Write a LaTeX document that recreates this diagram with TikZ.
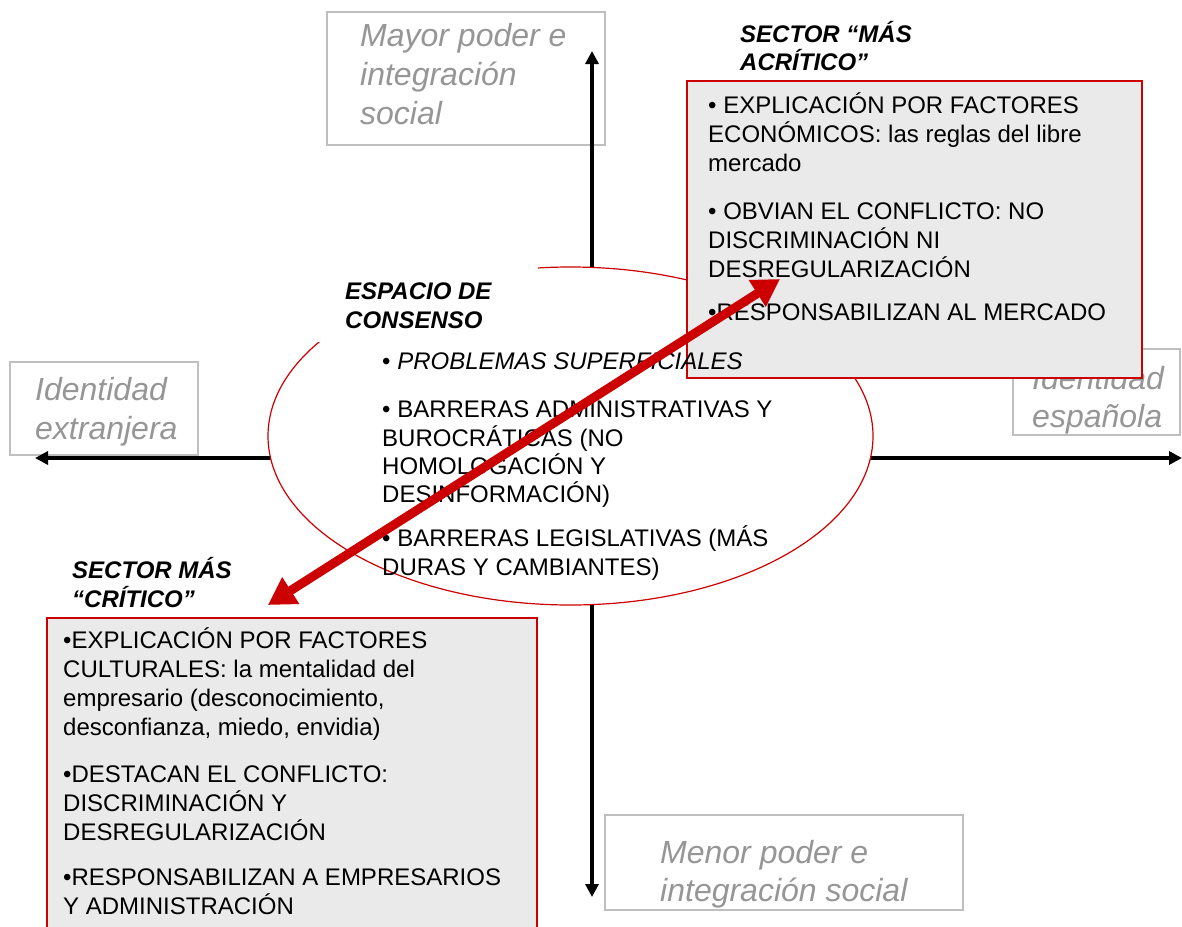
\documentclass[tikz,border=0pt]{standalone}
\usepackage{fontspec}
\setmainfont{Liberation Sans}
\usetikzlibrary{arrows.meta}
\definecolor{myred}{HTML}{CC0000}
\definecolor{graytxt}{HTML}{969696}
\definecolor{grayline}{HTML}{BFBFBF}
\definecolor{boxfill}{HTML}{EAEAEA}
\tikzset{
  body/.style={anchor=base west, inner sep=0pt, font=\fontsize{24}{29}\selectfont},
  head/.style={anchor=base west, inner sep=0pt, font=\fontsize{24}{28}\selectfont\bfseries\itshape},
  pole/.style={anchor=base west, inner sep=0pt, text=graytxt, font=\fontsize{32}{38}\selectfont\itshape},
  polebox/.style={draw=grayline, line width=1.2pt, fill=white},
  sectorbox/.style={draw=myred, line width=1.3pt, fill=boxfill},
  axis/.style={line width=4pt, -{Triangle[length=13pt,width=13pt]}},
  redarrow/.style={draw=myred, line width=9pt, {Triangle[length=27pt,width=30pt]}-{Triangle[length=27pt,width=30pt]}, color=myred}
}
\begin{document}
\begin{tikzpicture}[x=1pt,y=-1pt]
\useasboundingbox (0,0) rectangle (1182,926);
% pole boxes
\draw[polebox] (327,12) rectangle (605,145);
\draw[polebox] (10,362) rectangle (198,455);
\draw[polebox] (1013,349) rectangle (1180,435);
\draw[polebox] (605,815) rectangle (963,910);
\node[pole] (may1) at (360,46) {Mayor poder e};
\node[pole] (may2) at (360,85) {integración};
\node[pole] (may3) at (360,124) {social};
\node[pole] (ext1) at (35,400) {Identidad};
\node[pole] (ext2) at (35,439) {extranjera};
\node[pole] (esp1) at (1032,389) {Identidad};
\node[pole] (esp2) at (1032,427) {española};
\node[pole] (men1) at (660,863) {Menor poder e};
\node[pole] (men2) at (660,901) {integración social};
% axes
\coordinate (O) at (592,458);
\coordinate (top) at (592,51);
\coordinate (bot) at (592,897);
\coordinate (lft) at (35,458);
\coordinate (rgt) at (1182,458);
\draw[axis] (O) -- (top);
\draw[axis] (O) -- (bot);
\draw[axis] (O) -- (lft);
\draw[axis] (O) -- (rgt);
% consensus ellipse
\draw[myred, line width=1.2pt, fill=white] (570.5,436) ellipse [x radius=302.5, y radius=169];
\fill[white] (260,250) rectangle (538,342);
\node[head] (esp) at (345,299) {ESPACIO DE};
\node[head] (cons) at (345,328) {CONSENSO};
% top-right sector box
\draw[sectorbox] (687,81) rectangle (1142,378);
\node[head] (acr1) at (740,42) {SECTOR “MÁS};
\node[head] (acr2) at (740,70) {ACRÍTICO”};
\node[body] (a1) at (708,113) {• EXPLICACIÓN POR FACTORES};
\node[body] (a2) at (708,142) {ECONÓMICOS: las reglas del libre};
\node[body] (a3) at (708,171) {mercado};
\node[body] (a4) at (708,219) {• OBVIAN EL CONFLICTO: NO};
\node[body] (a5) at (708,248) {DISCRIMINACIÓN NI};
\node[body] (a6) at (708,277) {DESREGULARIZACIÓN};
\node[body] (a7) at (708,320) {•RESPONSABILIZAN AL MERCADO};
% consensus text
\node[body] (c1) at (382,369) {• \textit{PROBLEMAS SUPERFICIALES}};
\node[body] (c2) at (382,417) {• BARRERAS ADMINISTRATIVAS Y};
\node[body] (c3) at (382,446) {BUROCRÁTICAS (NO};
\node[body] (c4) at (382,474) {HOMOLOGACIÓN Y};
\node[body] (c5) at (382,502) {DESINFORMACIÓN)};
\node[body] (c6) at (382,546) {• BARRERAS LEGISLATIVAS (MÁS};
\node[body] (c7) at (382,575) {DURAS Y CAMBIANTES)};
% bottom-left sector box
\draw[sectorbox] (47,935) -- (47,618) -- (537,618) -- (537,935);
\node[head] (cr1) at (72,578) {SECTOR MÁS};
\node[head] (cr2) at (72,607) {“CRÍTICO”};
\node[body] (b1) at (63,648) {•EXPLICACIÓN POR FACTORES};
\node[body] (b2) at (63,677) {CULTURALES: la mentalidad del};
\node[body] (b3) at (63,706) {empresario (desconocimiento,};
\node[body] (b4) at (63,735) {desconfianza, miedo, envidia)};
\node[body] (b5) at (63,782) {•DESTACAN EL CONFLICTO:};
\node[body] (b6) at (63,811) {DISCRIMINACIÓN Y};
\node[body] (b7) at (63,840) {DESREGULARIZACIÓN};
\node[body] (b8) at (63,885) {•RESPONSABILIZAN A EMPRESARIOS};
\node[body] (b9) at (63,914) {Y ADMINISTRACIÓN};
% red double arrow
\coordinate (rA) at (268,605);
\coordinate (rB) at (780,279);
\draw[redarrow] (rA) -- (rB);
\end{tikzpicture}
\end{document}
